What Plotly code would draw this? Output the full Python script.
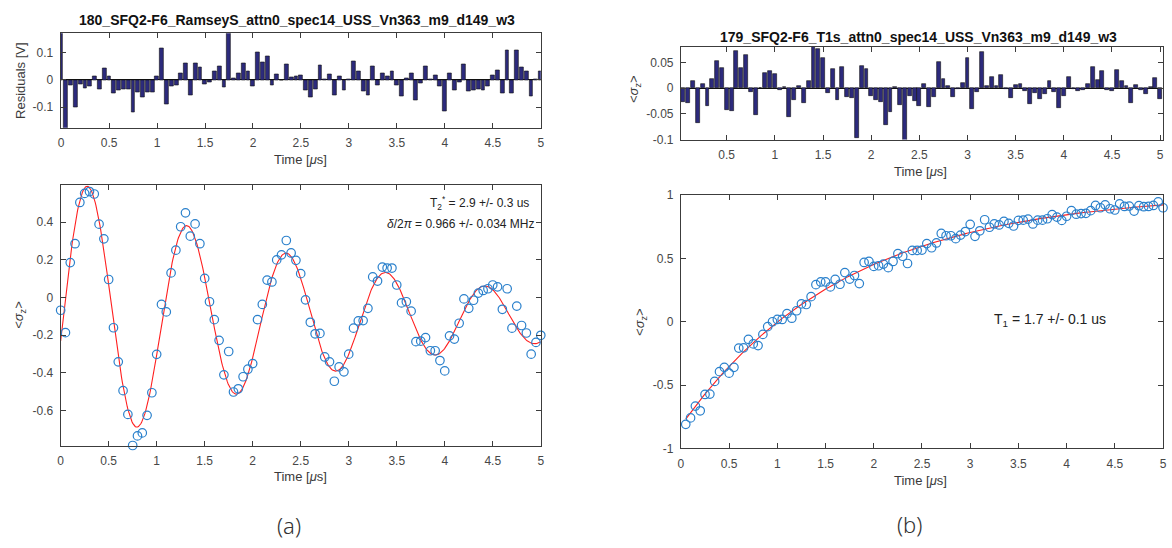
import numpy as np
import plotly.graph_objects as go

# ---------------- data ----------------
ramsey_t = np.round(np.arange(101) * 0.05, 2)
ramsey_sz = [
    -0.067, -0.186, 0.186, 0.286, 0.505, 0.553, 0.563, 0.550, 0.390, 0.312,
    0.096, -0.160, -0.341, -0.494, -0.620, -0.785, -0.734, -0.718, -0.625, -0.505,
    -0.301, -0.036, -0.076, 0.131, 0.252, 0.376, 0.450, 0.326, 0.391, 0.286,
    0.102, -0.022, -0.117, -0.227, -0.410, -0.286, -0.501, -0.484, -0.420, -0.380,
    -0.350, -0.117, -0.036, 0.093, 0.083, 0.200, 0.227, 0.303, 0.237, 0.198,
    0.127, -0.012, -0.131, -0.192, -0.190, -0.315, -0.341, -0.444, -0.368, -0.394,
    -0.300, -0.162, -0.124, -0.122, -0.057, 0.110, 0.088, 0.162, 0.157, 0.157,
    0.067, -0.028, -0.022, -0.072, -0.234, -0.231, -0.212, -0.282, -0.282, -0.334,
    -0.389, -0.203, -0.220, -0.136, -0.007, -0.057, -0.014, 0.024, 0.038, 0.047,
    0.067, 0.057, -0.062, 0.047, -0.162, -0.045, -0.148, -0.188, -0.300, -0.238,
    -0.200,
]
ramsey_resid = [
    0.190, -0.200, -0.020, -0.100, -0.015, -0.030, -0.025, 0.012, -0.033, 0.042,
    0.012, -0.048, -0.040, -0.035, -0.035, -0.120, -0.045, -0.065, -0.045, -0.045,
    0.013, 0.115, -0.088, -0.025, -0.020, 0.025, 0.062, -0.055, 0.060, 0.045,
    -0.018, -0.010, 0.032, 0.050, -0.028, 0.190, 0.005, 0.025, 0.060, 0.033,
    -0.025, 0.100, 0.065, 0.085, -0.020, 0.020, -0.002, 0.058, 0.010, 0.012,
    0.015, -0.040, -0.065, -0.035, 0.055, 0.003, 0.020, -0.055, 0.012, -0.038,
    0.003, 0.070, 0.030, -0.042, -0.058, 0.050, -0.020, 0.025, 0.012, 0.030,
    -0.020, -0.062, 0.005, 0.025, -0.075, -0.012, 0.050, 0.003, 0.015, -0.025,
    -0.117, 0.025, -0.040, -0.008, 0.058, -0.042, -0.040, -0.035, -0.040, -0.025,
    0.015, 0.035, -0.048, 0.108, -0.050, 0.108, 0.048, 0.032, -0.060, 0.003,
    0.033,
]

t1_t = np.round(np.arange(1, 101) * 0.05, 2)
t1_sz = [
    -0.810, -0.759, -0.666, -0.703, -0.574, -0.571, -0.471, -0.394, -0.360, -0.406,
    -0.360, -0.208, -0.206, -0.139, -0.175, -0.188, -0.100, -0.039, 0.000, 0.018,
    0.018, 0.064, 0.028, 0.087, 0.141, 0.136, 0.198, 0.293, 0.314, 0.314,
    0.275, 0.334, 0.296, 0.388, 0.337, 0.365, 0.301, 0.468, 0.476, 0.437,
    0.442, 0.455, 0.427, 0.476, 0.538, 0.517, 0.460, 0.563, 0.563, 0.566,
    0.617, 0.584, 0.622, 0.697, 0.679, 0.679, 0.656, 0.684, 0.712, 0.769,
    0.674, 0.718, 0.805, 0.746, 0.772, 0.764, 0.792, 0.777, 0.756, 0.800,
    0.802, 0.810, 0.772, 0.802, 0.802, 0.813, 0.846, 0.826, 0.800, 0.833,
    0.877, 0.849, 0.854, 0.856, 0.877, 0.918, 0.900, 0.923, 0.892, 0.882,
    0.931, 0.910, 0.913, 0.874, 0.916, 0.908, 0.910, 0.918, 0.946, 0.900,
]
t1_resid = [
    -0.026, -0.028, 0.013, -0.068, 0.009, -0.035, 0.017, 0.053, 0.040, -0.043,
    -0.044, 0.072, 0.040, 0.064, -0.007, -0.053, 0.000, 0.029, 0.034, 0.028,
    -0.003, 0.002, -0.057, -0.023, 0.004, -0.028, 0.013, 0.082, 0.077, 0.058,
    -0.010, 0.037, -0.023, 0.042, -0.018, -0.019, -0.097, 0.044, 0.038, -0.016,
    -0.024, -0.026, -0.072, -0.047, 0.002, -0.032, -0.102, -0.015, -0.025, -0.035,
    0.008, -0.037, -0.018, 0.050, 0.018, 0.005, -0.017, -0.002, 0.010, 0.058,
    -0.040, -0.008, 0.070, 0.005, 0.022, 0.005, 0.026, -0.001, -0.020, 0.007,
    0.008, -0.006, -0.030, -0.010, -0.021, -0.012, 0.014, -0.008, -0.039, -0.016,
    0.021, -0.002, -0.006, -0.003, 0.008, 0.042, 0.016, 0.034, -0.004, -0.005,
    0.036, 0.014, 0.004, -0.029, 0.006, -0.003, -0.011, 0.002, 0.020, -0.022,
]

# fit parameters
T2_STAR = 2.9          # us
DETUNING = 0.966       # MHz
RAMSEY_AMP = 0.767
RAMSEY_OFFSET = -0.105
RAMSEY_PHASE = -1.735
T1 = 1.7               # us
T1_ASYMPTOTE = 1.02
T1_SPAN = 1.842

tf_r = np.linspace(0, 5, 600)
fit_r = RAMSEY_OFFSET + RAMSEY_AMP * np.exp(-tf_r / T2_STAR) * np.cos(2 * np.pi * DETUNING * tf_r + RAMSEY_PHASE)
tf_1 = np.linspace(0.05, 5, 400)
fit_1 = T1_ASYMPTOTE - T1_SPAN * np.exp(-tf_1 / T1)

x_ticks_full = [0, 0.5, 1, 1.5, 2, 2.5, 3, 3.5, 4, 4.5, 5]
x_ticktext_full = ["0", "0.5", "1", "1.5", "2", "2.5", "3", "3.5", "4", "4.5", "5"]
x_ticks_b_res = [0.5, 1, 1.5, 2, 2.5, 3, 3.5, 4, 4.5, 5]
x_ticktext_b_res = ["0.5", "1", "1.5", "2", "2.5", "3", "3.5", "4", "4.5", "5"]
y_ticks_a_res = [-0.1, 0, 0.1]
y_ticktext_a_res = ["-0.1", "0", "0.1"]
y_ticks_a_main = [-0.6, -0.4, -0.2, 0, 0.2, 0.4]
y_ticktext_a_main = ["-0.6", "-0.4", "-0.2", "0", "0.2", "0.4"]
y_ticks_b_res = [-0.1, -0.05, 0, 0.05]
y_ticktext_b_res = ["-0.1", "-0.05", "0", "0.05"]
y_ticks_b_main = [-1, -0.5, 0, 0.5, 1]
y_ticktext_b_main = ["-1", "-0.5", "0", "0.5", "1"]

# ---------------- styling ----------------
W, H = 1172, 548
FONT = "Liberation Sans, Arial, sans-serif"
AX_COLOR = "#3c3c3c"
TICK_FONT = dict(family=FONT, size=12, color="#474747")
BAR_FILL = "#2c2a7c"
MARKER_BLUE = "#2a80cc"


def px_x(p):
    return p / W


def px_y(p):
    return 1 - p / H


def axis_style(**kw):
    d = dict(showline=True, linecolor=AX_COLOR, linewidth=1, mirror="allticks",
             ticks="inside", ticklen=5, tickcolor=AX_COLOR, tickwidth=1,
             tickfont=TICK_FONT, showgrid=False, zeroline=False,
             tickmode="array", ticklabelstandoff=4)
    d.update(kw)
    return d


fig = go.Figure()

# (a) residuals
fig.add_trace(go.Bar(x=ramsey_t, y=ramsey_resid, width=0.04,
                     marker=dict(color=BAR_FILL, line=dict(color="#111111", width=0.6)),
                     xaxis="x", yaxis="y", showlegend=False))
# (a) data + fit
fig.add_trace(go.Scatter(x=tf_r, y=fit_r, mode="lines", line=dict(color="#ff2020", width=1.1),
                         xaxis="x2", yaxis="y2", showlegend=False))
fig.add_trace(go.Scatter(x=ramsey_t, y=ramsey_sz, mode="markers", cliponaxis=False,
                         marker=dict(symbol="circle-open", size=8.5, color=MARKER_BLUE,
                                     line=dict(width=1.2, color=MARKER_BLUE)),
                         xaxis="x2", yaxis="y2", showlegend=False))
# (b) residuals
fig.add_trace(go.Bar(x=t1_t, y=t1_resid, width=0.04,
                     marker=dict(color=BAR_FILL, line=dict(color="#111111", width=0.6)),
                     xaxis="x3", yaxis="y3", showlegend=False))
# (b) data + fit
fig.add_trace(go.Scatter(x=tf_1, y=fit_1, mode="lines", line=dict(color="#ff2020", width=1.1),
                         xaxis="x4", yaxis="y4", showlegend=False))
fig.add_trace(go.Scatter(x=t1_t, y=t1_sz, mode="markers", cliponaxis=False,
                         marker=dict(symbol="circle-open", size=8.5, color=MARKER_BLUE,
                                     line=dict(width=1.2, color=MARKER_BLUE)),
                         xaxis="x4", yaxis="y4", showlegend=False))

xa_dom = [px_x(58), px_x(541)]
xb_dom = [px_x(682), px_x(1167)]

fig.update_layout(
    width=W, height=H, margin=dict(l=0, r=0, t=0, b=0),
    paper_bgcolor="white", plot_bgcolor="white", bargap=0,
    xaxis=axis_style(domain=xa_dom, range=[-0.005, 5.0], anchor="y",
                     tickvals=x_ticks_full, ticktext=x_ticktext_full),
    yaxis=axis_style(domain=[px_y(124), px_y(27)], range=[-0.176, 0.171], anchor="x",
                     tickvals=y_ticks_a_res, ticktext=y_ticktext_a_res,
                     zeroline=True, zerolinecolor="#111111", zerolinewidth=1),
    xaxis2=axis_style(domain=xa_dom, range=[0, 5.0], anchor="y2",
                      tickvals=x_ticks_full, ticktext=x_ticktext_full),
    yaxis2=axis_style(domain=[px_y(450), px_y(183)], range=[-0.785, 0.596], anchor="x2",
                      tickvals=y_ticks_a_main, ticktext=y_ticktext_a_main),
    xaxis3=axis_style(domain=xb_dom, range=[0.025, 5.03], anchor="y3",
                      tickvals=x_ticks_b_res, ticktext=x_ticktext_b_res),
    yaxis3=axis_style(domain=[px_y(136), px_y(41)], range=[-0.1, 0.08], anchor="x3",
                      tickvals=y_ticks_b_res, ticktext=y_ticktext_b_res,
                      zeroline=True, zerolinecolor="#111111", zerolinewidth=1),
    xaxis4=axis_style(domain=xb_dom, range=[0, 5.0], anchor="y4",
                      tickvals=x_ticks_full, ticktext=x_ticktext_full),
    yaxis4=axis_style(domain=[px_y(453), px_y(193)], range=[-1, 1], anchor="x4",
                      tickvals=y_ticks_b_main, ticktext=y_ticktext_b_main),
)

LABEL_FONT = dict(family=FONT, size=13, color="#3a3a3a")
TITLE_FONT = dict(family=FONT, size=14, color="#111111", weight="bold")
SIGMA_Z = "&lt;<i>σ</i><sub>z</sub>&gt;"
TIME_LABEL = "Time [<i>μ</i>s]"


def note(text, x, y, font, xanchor="center", yanchor="middle", angle=0):
    fig.add_annotation(text=text, x=px_x(x), y=px_y(y), xref="paper", yref="paper",
                       showarrow=False, font=font, xanchor=xanchor, yanchor=yanchor,
                       textangle=angle)


# titles
note("180_SFQ2-F6_RamseyS_attn0_spec14_USS_Vn363_m9_d149_w3", 296, 13, TITLE_FONT)
note("179_SFQ2-F6_T1s_attn0_spec14_USS_Vn363_m9_d149_w3", 921, 31, TITLE_FONT)

# axis labels
note(TIME_LABEL, 299, 157, LABEL_FONT)
note(TIME_LABEL, 299, 482, LABEL_FONT)
note(TIME_LABEL, 923, 169, LABEL_FONT)
note(TIME_LABEL, 923, 486, LABEL_FONT)
note("Residuals [V]", 17, 75, LABEL_FONT, angle=-90)
note(SIGMA_Z, 17, 316, LABEL_FONT, angle=-90)
note(SIGMA_Z, 636, 84, LABEL_FONT, angle=-90)
note(SIGMA_Z, 642, 323, LABEL_FONT, angle=-90)

# fit results
FIT_FONT = dict(family=FONT, size=12, color="#222222")
note("T<sub>2</sub><sup>*</sup> = 2.9 +/- 0.3 us", 531, 201, FIT_FONT, xanchor="right")
note("<i>δ</i>/2<i>π</i> = 0.966 +/- 0.034 MHz", 536, 223, FIT_FONT, xanchor="right")
note("T<sub>1</sub> = 1.7 +/- 0.1 us", 995, 321, dict(family=FONT, size=14, color="#222222"),
     xanchor="left")

# panel tags
TAG_FONT = dict(family="Noto Sans, sans-serif", size=22, color="#333333", weight=300)
note("(a)", 288, 532, TAG_FONT)
note("(b)", 912, 531, TAG_FONT)

fig.write_html("out.html")
